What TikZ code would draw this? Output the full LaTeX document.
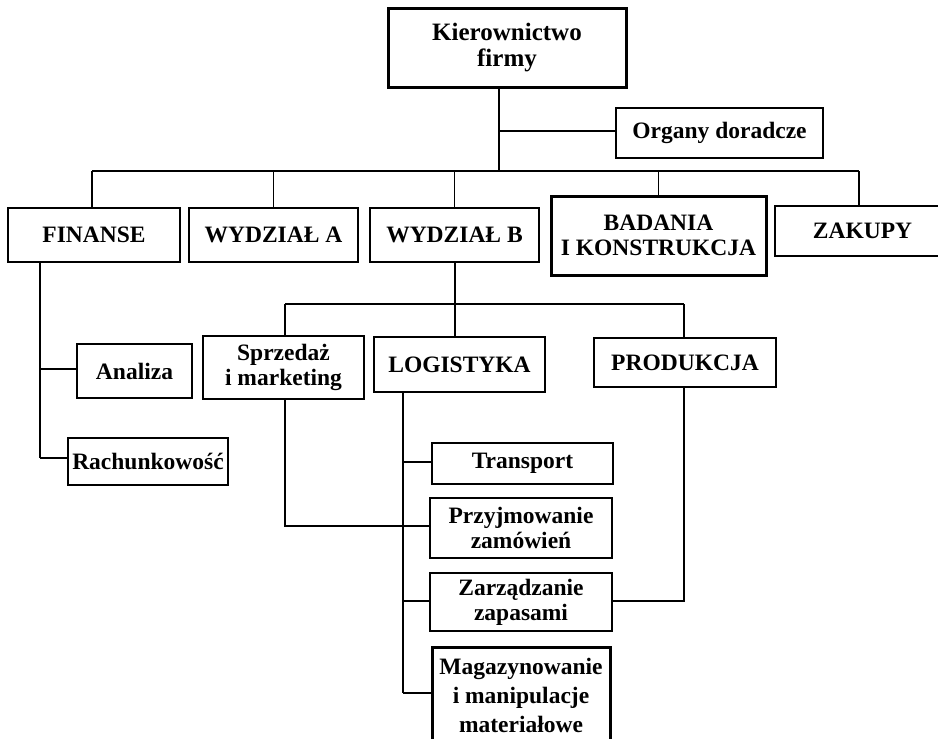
\documentclass[tikz,border=0pt]{standalone}
\usepackage{fontspec}
\setmainfont{Liberation Serif}
\begin{document}
\begin{tikzpicture}[x=1pt,y=-1pt,
  box/.style={draw, line width=2pt, rectangle, inner sep=0pt, align=center,
    font=\bfseries\fontsize{23.5}{25}\selectfont},
  heavybox/.style={box, line width=3pt},
  link/.style={line width=1.2pt}]
\useasboundingbox (0,0) rectangle (938,739);

% top level
\node[heavybox, minimum width=238pt, minimum height=79pt,
  font=\bfseries\fontsize{25}{26}\selectfont] (kier) at (507,47.5) {Kierownictwo\\firmy};
\node[box, minimum width=207pt, minimum height=50pt] (org) at (719.5,133) {Organy doradcze};

% departments
\node[box, minimum width=172pt, minimum height=54pt] (fin) at (94,235) {FINANSE};
\node[box, minimum width=169pt, minimum height=54pt] (wa) at (273.5,235) {WYDZIAŁ A};
\node[box, minimum width=169pt, minimum height=54pt] (wb) at (454.5,235) {WYDZIAŁ B};
\node[heavybox, minimum width=215pt, minimum height=79pt] (bad) at (658.5,235.5) {BADANIA\\I KONSTRUKCJA};
\node[box, minimum width=175pt, minimum height=50pt] (zak) at (862.5,231) {ZAKUPY};

% finance units
\node[box, minimum width=115pt, minimum height=54pt] (ana) at (134.5,371) {Analiza};
\node[box, minimum width=160pt, minimum height=47pt] (rach) at (148,461.5) {Rachunkowość};

% division B units
\node[box, minimum width=161pt, minimum height=63pt] (spr) at (283.5,367.5) {Sprzedaż\\i marketing};
\node[box, minimum width=171pt, minimum height=55pt] (log) at (459.5,364.5) {LOGISTYKA};
\node[box, minimum width=182pt, minimum height=49pt] (prod) at (685,362.5) {PRODUKCJA};

% logistics units
\node[box, minimum width=181pt, minimum height=41pt] (tr) at (522.5,463.5) {Transport};
\node[box, minimum width=182pt, minimum height=60pt] (prz) at (521,528) {Przyjmowanie\\zamówień};
\node[box, minimum width=182pt, minimum height=58pt] (zar) at (521,602) {Zarządzanie\\zapasami};
\node[heavybox, minimum width=178pt, minimum height=96pt,
  font=\bfseries\fontsize{23.5}{29}\selectfont] (mag) at (521,695) {Magazynowanie\\i manipulacje\\materiałowe};

% junction points
\coordinate (k1) at (499,131);
\coordinate (k2) at (499,171);
\coordinate (busL) at (92,171);
\coordinate (busR) at (859,171);
\coordinate (f1) at (40,369);
\coordinate (f2) at (40,458);
\coordinate (b1) at (455,304);
\coordinate (bL) at (285,304);
\coordinate (bR) at (684,304);
\coordinate (s1) at (285,526);
\coordinate (l1) at (403,462);
\coordinate (l2) at (403,526);
\coordinate (l3) at (403,601);
\coordinate (l4) at (403,693);
\coordinate (p1) at (684,601);

% management connectors
\draw[link] (kier.south -| k1) -- (k2);
\draw[link] (k1) -- (k1 -| org.west);
\draw[link] (busL) -- (busR);
\draw[link] (busL) -- (busL |- fin.north);
\draw[link] (wa.north) -- (wa.north |- busL);
\draw[link] (wb.north) -- (wb.north |- busL);
\draw[link] (bad.north) -- (bad.north |- busL);
\draw[link] (busR) -- (busR |- zak.north);

% finance connectors
\draw[link] (fin.south -| f1) -- (f2);
\draw[link] (f1) -- (f1 -| ana.west);
\draw[link] (f2) -- (f2 -| rach.west);

% division B connectors
\draw[link] (wb.south -| b1) -- (b1 |- log.north);
\draw[link] (bL) -- (bR);
\draw[link] (bL) -- (bL |- spr.north);
\draw[link] (bR) -- (bR |- prod.north);

% logistics connectors
\draw[link] (spr.south -| s1) -- (s1) -- (s1 -| prz.west);
\draw[link] (log.south -| l1) -- (l4);
\draw[link] (l1) -- (l1 -| tr.west);
\draw[link] (l2) -- (l2 -| prz.west);
\draw[link] (l3) -- (l3 -| zar.west);
\draw[link] (l4) -- (l4 -| mag.west);
\draw[link] (prod.south -| p1) -- (p1) -- (p1 -| zar.east);
\end{tikzpicture}
\end{document}
